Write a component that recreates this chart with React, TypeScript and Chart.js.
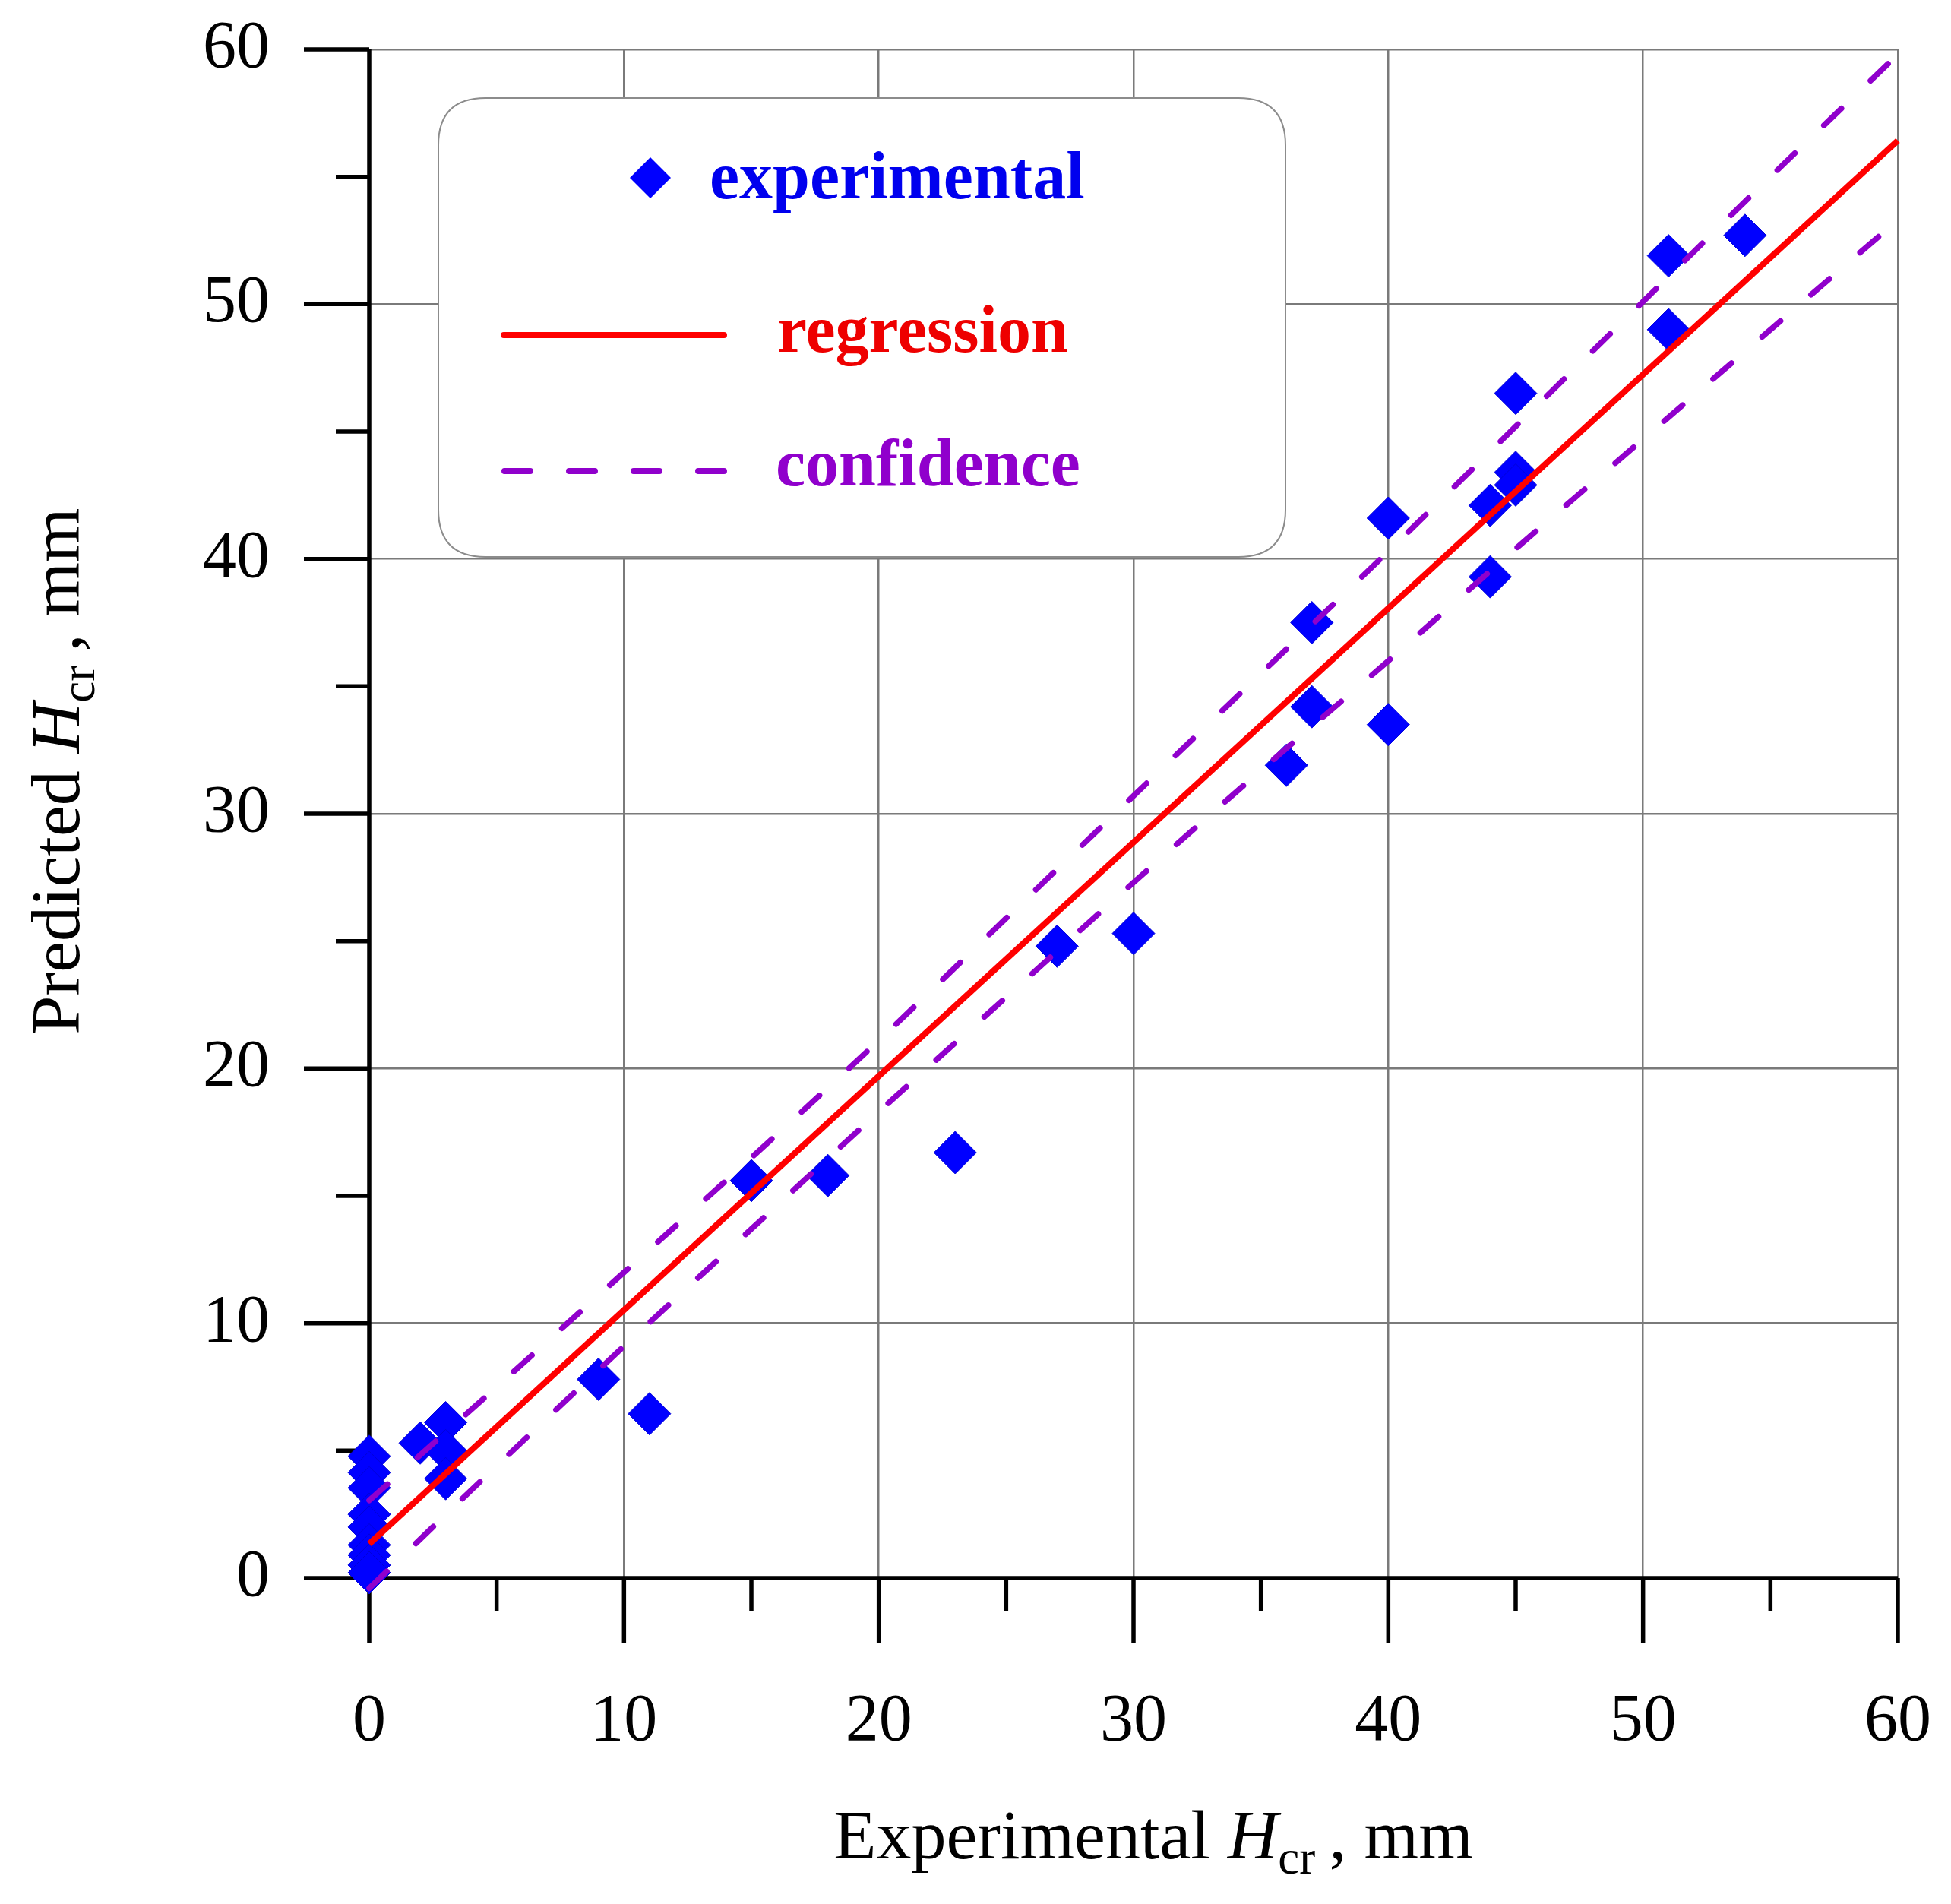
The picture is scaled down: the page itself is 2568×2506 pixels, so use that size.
import React, { useEffect, useRef } from "react";
import { Chart, registerables } from "chart.js";

Chart.register(...registerables);

// ---------- data ----------
const expX = [0, 0, 0, 0, 0, 0, 0, 0, 0, 2, 3, 3, 3, 9, 11, 15, 18, 23, 27, 30, 36, 37, 37, 40, 40, 44, 44, 45, 45, 45, 51, 51, 54];
const expY = [4.78, 4.14, 3.54, 2.5, 2.0, 1.3, 0.9, 0.51, 0.21, 5.3, 6.1, 5.0, 3.9, 7.8, 6.45, 15.6, 15.8, 16.7, 24.8, 25.3, 31.9, 37.5, 34.2, 41.6, 33.5, 42.1, 39.3, 46.5, 43.4, 42.9, 51.9, 49.0, 52.7];

const regX = [0, 60];
const regY = [1.34, 56.42];

const bandX = [0, 5, 10, 15, 20, 25, 30, 35, 40, 45, 50, 55, 60];
const upperY = [3.05, 7.5, 12.0, 16.5, 21.1, 25.9, 30.7, 35.5, 40.3, 45.2, 50.1, 55.0, 59.8];
const lowerY = [-0.4, 4.4, 9.1, 13.7, 18.3, 22.8, 27.3, 31.7, 36.0, 40.4, 44.7, 49.0, 53.3];

const majorTicks = [0, 10, 20, 30, 40, 50, 60];
const minorTicks = [5, 15, 25, 35, 45, 55];

const legendLabels = ["experimental", "regression", "confidence"];
const xTitle = ["Experimental ", "H", "cr", ", mm"];
const yTitle = ["Predicted ", "H", "cr", ", mm"];

// ---------- styles ----------
const FONT = '"Liberation Serif", "Times New Roman", serif';
const BLUE = "#0000ff";
const BLUE_TEXT = "#0000ee";
const RED = "#ff0000";
const RED_TEXT = "#ee0000";
const PURPLE = "#9000cc";
const GRID = "#7a7a7a";

type Seg = { t: string; italic?: boolean; sub?: boolean };

function titleSegs(parts: string[]): Seg[] {
  return [
    { t: parts[0] },
    { t: parts[1], italic: true },
    { t: parts[2], sub: true },
    { t: parts[3] },
  ];
}

function drawRich(ctx: CanvasRenderingContext2D, segs: Seg[], cx: number, baseY: number, size: number) {
  const subSize = Math.round(size * 0.68);
  const fontOf = (s: Seg) => `${s.italic ? "italic " : ""}${s.sub ? subSize : size}px ${FONT}`;
  const gapAfterSub = size * 0.2;
  let total = 0;
  const widths = segs.map((s) => {
    ctx.font = fontOf(s);
    const w = ctx.measureText(s.t).width + (s.sub ? gapAfterSub : 0);
    total += w;
    return w;
  });
  let x = cx - total / 2;
  ctx.textAlign = "left";
  ctx.textBaseline = "alphabetic";
  segs.forEach((s, i) => {
    ctx.font = fontOf(s);
    ctx.fillText(s.t, x, baseY + (s.sub ? size * 0.22 : 0));
    x += widths[i];
  });
}

const customPlugin = {
  id: "customDecor",
  beforeDatasetsDraw(chart: any) {
    const { ctx, chartArea } = chart;
    const xs = chart.scales.x;
    const ys = chart.scales.y;
    const x0 = xs.getPixelForValue(0);
    const y0 = ys.getPixelForValue(0);
    const majorLen = 86;
    const minorLen = 44;
    ctx.save();
    ctx.strokeStyle = "#000";
    ctx.lineWidth = 5.5;
    ctx.lineCap = "butt";
    ctx.beginPath();
    ctx.moveTo(x0, chartArea.top);
    ctx.lineTo(x0, y0 + majorLen);
    ctx.moveTo(x0 - majorLen, y0);
    ctx.lineTo(chartArea.right, y0);
    majorTicks.forEach((v) => {
      const px = xs.getPixelForValue(v);
      ctx.moveTo(px, y0);
      ctx.lineTo(px, y0 + majorLen);
      const py = ys.getPixelForValue(v);
      ctx.moveTo(x0, py);
      ctx.lineTo(x0 - majorLen, py);
    });
    minorTicks.forEach((v) => {
      const px = xs.getPixelForValue(v);
      ctx.moveTo(px, y0);
      ctx.lineTo(px, y0 + minorLen);
      const py = ys.getPixelForValue(v);
      ctx.moveTo(x0, py);
      ctx.lineTo(x0 - minorLen, py);
    });
    ctx.stroke();
    ctx.restore();
  },
  afterDatasetsDraw(chart: any) {
    const { ctx } = chart;
    ctx.save();
    const bx = 577, by = 129, bw = 1115, bh = 604, r = 62;
    ctx.beginPath();
    ctx.moveTo(bx + r, by);
    ctx.lineTo(bx + bw - r, by);
    ctx.quadraticCurveTo(bx + bw, by, bx + bw, by + r);
    ctx.lineTo(bx + bw, by + bh - r);
    ctx.quadraticCurveTo(bx + bw, by + bh, bx + bw - r, by + bh);
    ctx.lineTo(bx + r, by + bh);
    ctx.quadraticCurveTo(bx, by + bh, bx, by + bh - r);
    ctx.lineTo(bx, by + r);
    ctx.quadraticCurveTo(bx, by, bx + r, by);
    ctx.closePath();
    ctx.fillStyle = "#ffffff";
    ctx.fill();
    ctx.strokeStyle = "#8c8c8c";
    ctx.lineWidth = 2;
    ctx.stroke();

    const mx = 856, my = 234, mr = 27;
    ctx.beginPath();
    ctx.moveTo(mx - mr, my);
    ctx.lineTo(mx, my - mr);
    ctx.lineTo(mx + mr, my);
    ctx.lineTo(mx, my + mr);
    ctx.closePath();
    ctx.fillStyle = BLUE;
    ctx.fill();

    ctx.strokeStyle = RED;
    ctx.lineWidth = 8;
    ctx.lineCap = "round";
    ctx.beginPath();
    ctx.moveTo(663, 441);
    ctx.lineTo(953, 441);
    ctx.stroke();

    ctx.strokeStyle = PURPLE;
    ctx.lineWidth = 8;
    ctx.setLineDash([34, 51]);
    ctx.beginPath();
    ctx.moveTo(664, 620);
    ctx.lineTo(956, 620);
    ctx.stroke();
    ctx.setLineDash([]);

    ctx.font = `bold 88px ${FONT}`;
    ctx.textAlign = "left";
    ctx.textBaseline = "alphabetic";
    ctx.fillStyle = BLUE_TEXT;
    ctx.fillText(legendLabels[0], 934, 261);
    ctx.fillStyle = RED_TEXT;
    ctx.fillText(legendLabels[1], 1023, 463);
    ctx.fillStyle = PURPLE;
    ctx.fillText(legendLabels[2], 1021, 639);
    ctx.restore();
  },
  afterDraw(chart: any) {
    const { ctx } = chart;
    ctx.save();
    ctx.fillStyle = "#000";
    drawRich(ctx, titleSegs(xTitle), 1518, 2446, 92);
    ctx.translate(104, 1015);
    ctx.rotate(-Math.PI / 2);
    drawRich(ctx, titleSegs(yTitle), 0, 0, 92);
    ctx.restore();
  },
};

export default function App() {
  const canvasRef = useRef<HTMLCanvasElement | null>(null);

  useEffect(() => {
    document.body.style.margin = "0";
    const canvas = canvasRef.current;
    if (!canvas) return;
    const pts = expX.map((x, i) => ({ x, y: expY[i] }));
    const reg = regX.map((x, i) => ({ x, y: regY[i] }));
    const up = bandX.map((x, i) => ({ x, y: upperY[i] }));
    const lo = bandX.map((x, i) => ({ x, y: lowerY[i] }));

    const bandStyle = {
      showLine: true,
      borderColor: PURPLE,
      borderWidth: 7.5,
      borderDash: [32, 53],
      borderCapStyle: "round" as const,
      pointRadius: 0,
      cubicInterpolationMode: "monotone" as const,
      fill: false,
      clip: false as const,
    };

    const chart = new Chart(canvas, {
      type: "scatter",
      data: {
        datasets: [
          { label: "confidence upper", data: up, ...bandStyle },
          { label: "confidence lower", data: lo, ...bandStyle },
          {
            label: "regression",
            data: reg,
            showLine: true,
            borderColor: RED,
            borderWidth: 8,
            pointRadius: 0,
            fill: false,
            clip: false as const,
          },
          {
            label: "experimental",
            data: pts,
            pointStyle: "rectRot",
            pointRadius: 28,
            backgroundColor: BLUE,
            borderColor: "#0000d8",
            borderWidth: 1,
            clip: false as const,
          },
        ],
      },
      options: {
        animation: false,
        responsive: true,
        maintainAspectRatio: false,
        layout: { padding: { top: 65, right: 70, left: 0, bottom: 0 } },
        plugins: {
          legend: { display: false },
          tooltip: { enabled: false },
          title: { display: false },
        },
        scales: {
          x: {
            type: "linear",
            min: 0,
            max: 60,
            afterFit: (s: any) => {
              s.height = 429;
              s.paddingLeft = 0;
              s.paddingRight = 0;
            },
            ticks: {
              stepSize: 10,
              padding: 137,
              color: "#000",
              font: { family: FONT, size: 88 },
              maxRotation: 0,
              autoSkip: false,
            },
            grid: { color: GRID, lineWidth: 2.5, drawTicks: false },
            border: { display: false },
          },
          y: {
            type: "linear",
            min: 0,
            max: 60,
            afterFit: (s: any) => {
              s.width = 486;
              s.paddingTop = 0;
              s.paddingBottom = 0;
            },
            ticks: {
              stepSize: 10,
              padding: 131,
              color: "#000",
              font: { family: FONT, size: 88 },
              autoSkip: false,
            },
            grid: { color: GRID, lineWidth: 2.5, drawTicks: false },
            border: { display: false },
          },
        },
      },
      plugins: [customPlugin],
    });
    return () => chart.destroy();
  }, []);

  return (
    <div style={{ position: "absolute", left: 0, top: 0, width: 2568, height: 2506, background: "#fff" }}>
      <canvas ref={canvasRef} />
    </div>
  );
}
